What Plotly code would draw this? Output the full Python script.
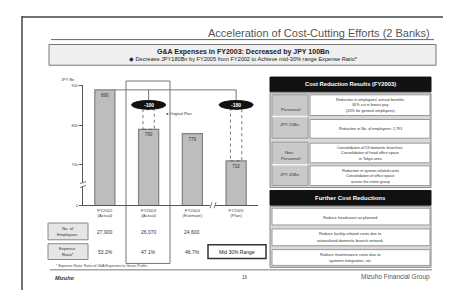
import plotly.graph_objects as go

W, H = 451, 290

# ---- data ----
fiscal_years = ["FY2002", "FY2003", "FY2004", "FY2005"]
year_status = ["(Actual)", "(Actual)", "(Estimate)", "(Plan)"]
ga_expenses = [890, 790, 779, 710]          # JPY Bn
employees = ["27,900", "26,070", "24,600"]
expense_ratio = ["53.2%", "47.1%", "46.7%"]
target_ratio = "Mid 30% Range"
y_tick_vals = [700, 800, 900]

FONT = "Liberation Sans, Arial, sans-serif"


def px(x):
    return x / W


def py(y):
    return 1 - y / H


shapes = []
annots = []


def rect(x0, y0, x1, y1, fill="rgba(0,0,0,0)", line="#777", lw=1, dash=None, radius=False):
    d = dict(type="rect", xref="paper", yref="paper",
             x0=px(x0), x1=px(x1), y0=py(y1), y1=py(y0),
             fillcolor=fill, line=dict(color=line, width=lw), layer="below")
    if dash:
        d["line"]["dash"] = dash
    shapes.append(d)


def hline(x0, x1, y, color="#555", lw=1):
    shapes.append(dict(type="line", xref="paper", yref="paper",
                       x0=px(x0), x1=px(x1), y0=py(y), y1=py(y),
                       line=dict(color=color, width=lw)))


def vline(x, y0, y1, color="#555", lw=1):
    shapes.append(dict(type="line", xref="paper", yref="paper",
                       x0=px(x), x1=px(x), y0=py(y0), y1=py(y1),
                       line=dict(color=color, width=lw)))


def text(x, y, s, size=5, color="#333", bold=False, xanchor="center", bg=None):
    if bold:
        s = "<b>" + s + "</b>"
    a = dict(xref="paper", yref="paper", x=px(x), y=py(y), text=s, showarrow=False,
             xanchor=xanchor, yanchor="middle",
             font=dict(family=FONT, size=size, color=color))
    if bg:
        a["bgcolor"] = bg
    annots.append(a)


# ---- slide frame ----
vline(14, 6, 290, color="#444", lw=1.5)
hline(14, 451, 7, color="#444", lw=1.5)

# title
text(424, 23, "Acceleration of Cost-Cutting Efforts (2 Banks)", size=11, color="#555", xanchor="right")
hline(43, 426, 30, color="#666", lw=1)

# header box
rect(41, 35, 428, 56, fill="#efefef", line="#777", lw=1)
text(235, 42.5, "G&amp;A Expenses in FY2003: Decreased by JPY 100Bn", size=7, bold=True, color="#222")
text(235, 50, "◆ Decrease JPY180Bn by FY2005 from FY2002 to Achieve mid-30% range Expense Ratio*",
     size=5.6, color="#222")

# FY2003 highlight frame
rect(118, 72, 162, 257, line="#777", lw=1)

# unit label
text(60, 70, "JPY Bn", size=4, color="#444")

# table rows
rect(40, 216, 80, 233, fill="#e6e6e6", line="#888", lw=1)
text(60, 221.5, "No. of", size=4.2)
text(60, 227.5, "Employees", size=4.2)
rect(40, 237, 80, 253, fill="#e6e6e6", line="#888", lw=1)
text(60, 242, "Expense", size=4.2)
text(60, 248, "Ratio*", size=4.2)
cat_px = [97, 140.5, 184.4]
for i in range(3):
    text(cat_px[i], 225, employees[i], size=5)
    text(cat_px[i], 245, expense_ratio[i], size=5)
rect(200, 238, 258, 252, fill="white", line="#333", lw=1.5)
text(229, 245, target_ratio, size=5, color="#222")

# footnote / footer
text(46, 260, "* Expense Ratio: Ratio of G&amp;A Expenses to Gross Profits", size=3.6, color="#444", xanchor="left")
hline(42, 424, 263.5, color="#777", lw=1)
text(45, 272, "<i>Mizuho</i>", size=5.5, color="#333", xanchor="left", bold=True)
text(237, 271, "16", size=4.5, color="#444")
text(424, 271, "Mizuho Financial Group", size=6.5, color="#555", xanchor="right")

# ---- right panel: cost reduction results ----
rect(262, 68, 423, 83, fill="#111", line="#111", lw=1)
text(342, 75.5, "Cost Reduction Results (FY2003)", size=5.8, color="white", bold=True)
rect(262, 84, 423, 180, fill="#d9d9d9", line="#888", lw=1)
# personnel
rect(264, 86, 300, 130, fill="#c9c9c9", line="#999", lw=1)
hline(264, 300, 108, color="#f4f4f4", lw=1.5)
text(282, 101, "Personnel", size=4.3)
text(282, 116, "JPY 55Bn", size=4.3)
rect(302, 86, 422, 107, fill="white", line="#999", lw=1)
text(362, 91, "Reduction in employees' annual benefits", size=3.8)
text(362, 96.5, "30% cut in bonus pay", size=3.8)
text(362, 102, "(20% for general employees)", size=3.8)
rect(302, 111, 422, 130, fill="white", line="#999", lw=1)
text(362, 120.5, "Reduction in No. of employees: 1,791", size=3.8)
# non-personnel
rect(264, 134, 300, 178, fill="#c9c9c9", line="#999", lw=1)
hline(264, 300, 157, color="#f4f4f4", lw=1.5)
text(282, 144.5, "Non-", size=4.3)
text(282, 151, "Personnel", size=4.3)
text(282, 167, "JPY 45Bn", size=4.3)
rect(302, 135, 422, 155, fill="white", line="#999", lw=1)
text(362, 140, "Consolidation of 53 domestic branches", size=3.8)
text(362, 145.5, "Consolidation of head office space", size=3.8)
text(362, 151, "in Tokyo area", size=3.8)
rect(302, 158, 422, 178, fill="white", line="#999", lw=1)
text(362, 163, "Reduction in system-related costs", size=3.8)
text(362, 168.5, "Consolidation of office space", size=3.8)
text(362, 174, "across the entire group", size=3.8)

# further cost reductions
rect(262, 183, 423, 198, fill="#111", line="#111", lw=1)
text(342, 190.5, "Further Cost Reductions", size=6, color="white", bold=True)
rect(262, 199, 423, 261, fill="#d9d9d9", line="#888", lw=1)
rect(264, 201, 422, 218, fill="white", line="#999", lw=1)
text(342, 210, "Reduce headcount as planned", size=4)
rect(264, 222, 422, 239, fill="white", line="#999", lw=1)
text(342, 226.5, "Reduce facility-related costs due to", size=4)
text(342, 233.5, "rationalized domestic branch network", size=4)
rect(264, 243, 422, 259, fill="white", line="#999", lw=1)
text(342, 247.5, "Reduce maintenance costs due to", size=4)
text(342, 254.5, "systems integration, etc.", size=4)

# ---- bar chart ----
fig = go.Figure()
fig.add_trace(go.Bar(
    x=fiscal_years, y=ga_expenses, width=0.46,
    marker=dict(color="#bdbdbd", line=dict(color="#808080", width=1.2)),
    text=[str(v) for v in ga_expenses], textposition="inside", insidetextanchor="end",
    textfont=dict(family=FONT, size=4.5, color="#333"),
    showlegend=False, hoverinfo="skip", cliponaxis=True,
))

y_bottom = 597.5  # broken axis: bottom of plot stands for 0
fig.update_yaxes(range=[y_bottom, 902.5], domain=[py(198), py(76)],
                 tickvals=[y_bottom] + y_tick_vals, ticktext=["0"] + [str(v) for v in y_tick_vals],
                 showline=True, linecolor="#555", linewidth=1, ticks="outside", ticklen=3,
                 tickcolor="#555", tickfont=dict(family=FONT, size=4, color="#444"),
                 showgrid=False, zeroline=False)
fig.update_xaxes(domain=[px(75), px(250)], range=[-0.5, 3.5],
                 tickvals=fiscal_years,
                 ticktext=[f"{a}<br>{b}" for a, b in zip(fiscal_years, year_status)],
                 showline=True, linecolor="#555", linewidth=1.2, ticks="",
                 tickfont=dict(family=FONT, size=4.3, color="#444"), showgrid=False)

# axis breaks
rect(72, 175, 78, 179, fill="white", line="white", lw=0)
shapes[-1]["layer"] = "above"
for yy in (175, 179):
    shapes.append(dict(type="line", xref="paper", yref="paper", x0=px(72), x1=px(78),
                       y0=py(yy + 1), y1=py(yy - 1), line=dict(color="#555", width=0.8)))
rect(202, 195, 207, 201, fill="white", line="white", lw=0)
shapes[-1]["layer"] = "above"
for xx in (202, 206):
    shapes.append(dict(type="line", xref="paper", yref="paper", x0=px(xx), x1=px(xx + 2),
                       y0=py(201), y1=py(195), line=dict(color="#555", width=0.8)))

# reduction callouts (data coordinates)
base = ga_expenses[0]
oval_y = 852
shapes.append(dict(type="line", xref="x", yref="y", x0=0.23, x1=3, y0=base, y1=base,
                   line=dict(color="#777", width=1)))
for idx in (1, 3):
    shapes.append(dict(type="line", xref="x", yref="y", x0=idx, x1=idx, y0=base, y1=oval_y,
                       line=dict(color="#777", width=1)))
    shapes.append(dict(type="rect", xref="x", yref="y", x0=idx - 0.13, x1=idx + 0.13,
                       y0=ga_expenses[idx], y1=oval_y - 12,
                       line=dict(color="#555", width=0.8, dash="dot"), fillcolor="rgba(0,0,0,0)"))
    shapes.append(dict(type="circle", xref="x", yref="y", x0=idx - 0.39, x1=idx + 0.39,
                       y0=oval_y - 11, y1=oval_y + 11, fillcolor="#111", line=dict(color="#111", width=1)))
    annots.append(dict(xref="x", yref="y", x=idx, y=oval_y, showarrow=False,
                       text=f"<b>{ga_expenses[idx] - base}</b>",
                       font=dict(family=FONT, size=5, color="white")))
annots.append(dict(xref="x", yref="y", x=1.32, y=828, xanchor="left", showarrow=False,
                   text="◄ Original Plan", font=dict(family=FONT, size=3.8, color="#333")))

fig.update_layout(width=W, height=H, margin=dict(l=0, r=0, t=0, b=0),
                  paper_bgcolor="white", plot_bgcolor="white",
                  shapes=shapes, annotations=annots, bargap=0.3)
fig.write_html("out.html")
